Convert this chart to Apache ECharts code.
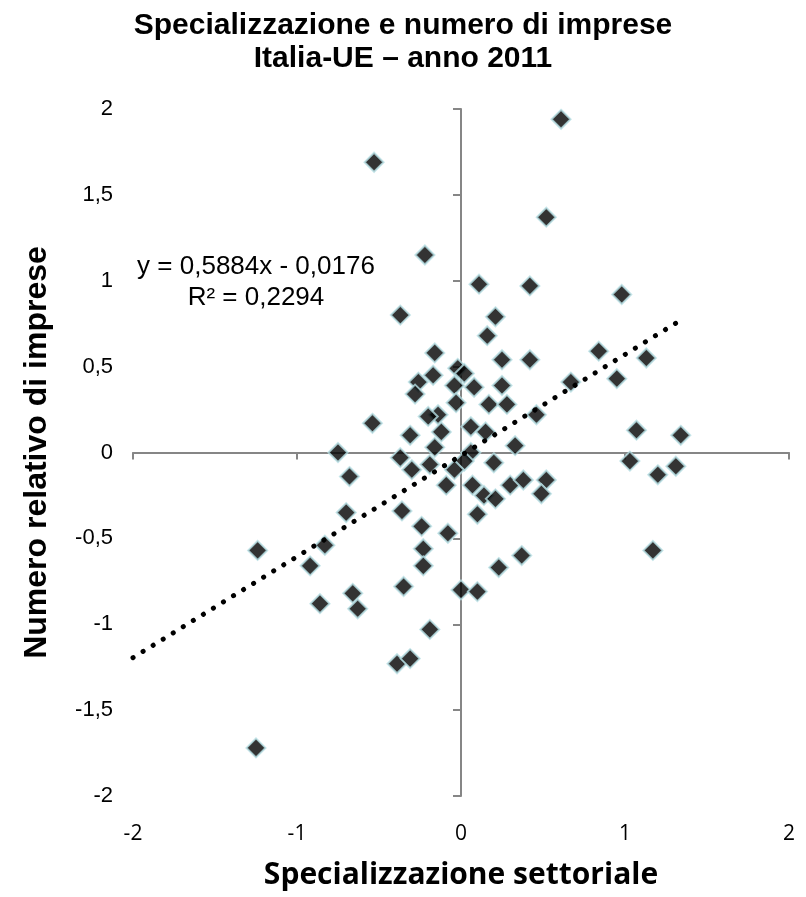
<!DOCTYPE html>
<html>
<head>
<meta charset="utf-8">
<title>Specializzazione e numero di imprese</title>
<script src="https://cdn.jsdelivr.net/npm/echarts@6/dist/echarts.min.js"></script>
<style>
  html, body { margin: 0; padding: 0; background: #ffffff; }
  #chart { width: 806px; height: 897px; }
</style>
</head>
<body>
<div id="chart"></div>
<script>
// Specializzazione settoriale (x) vs numero relativo di imprese (y), Italia-UE 2011
var specializzazione = [
  -0.53, 0.61, 0.52, -0.22, 0.11, 0.42, 0.98, -0.37, 0.21, 0.16,
  0.84, -0.16, 0.25, 0.42, 1.13, -0.02, 0.02, -0.17, -0.26, -0.04,
  0.08, 0.25, 0.67, 0.95, -0.28, -0.03, 0.17, 0.28, -0.14, -0.20,
  0.46, -0.54, 0.06, 0.15, -0.12, -0.31, 1.07, 1.34, -0.16, 0.33,
  -0.75, 0.06, -0.37, 0.02, -0.19, 0.20, 1.03, 1.31, 1.20, -0.30,
  -0.04, -0.68, -0.09, 0.07, 0.30, 0.38, 0.52, 0.14, 0.21, 0.49,
  -0.70, -0.36, 0.10, -0.24, -0.08, -0.83, -0.23, -1.24, 1.17, 0.37,
  -0.92, -0.23, 0.23, -0.35, 0.00, 0.10, -0.66, -0.86, -0.63, -0.19,
  -0.39, -0.31, -1.25
];
var numeroImprese = [
  1.69, 1.94, 1.37, 1.15, 0.98, 0.97, 0.92, 0.80, 0.79, 0.68,
  0.59, 0.58, 0.54, 0.54, 0.55, 0.49, 0.46, 0.45, 0.41, 0.39,
  0.38, 0.39, 0.41, 0.43, 0.34, 0.29, 0.28, 0.28, 0.22, 0.21,
  0.22, 0.17, 0.15, 0.12, 0.12, 0.10, 0.13, 0.10, 0.03, 0.04,
  0.00, 0.00, -0.03, -0.05, -0.07, -0.06, -0.05, -0.08, -0.13, -0.10,
  -0.10, -0.14, -0.19, -0.19, -0.19, -0.16, -0.16, -0.25, -0.27, -0.24,
  -0.35, -0.34, -0.36, -0.43, -0.47, -0.54, -0.56, -0.57, -0.57, -0.60,
  -0.66, -0.66, -0.67, -0.78, -0.80, -0.81, -0.82, -0.88, -0.91, -1.03,
  -1.23, -1.20, -1.72
];

// Linear trend line coefficients (least squares)
var trendSlope = 0.5884;
var trendIntercept = -0.0176;
var trendR2 = 0.2294;

var xTicks = [-2, -1, 0, 1, 2];
var yTicks = [-2, -1.5, -1, -0.5, 0, 0.5, 1, 1.5, 2];

function fmt(v) { return String(v).replace('.', ','); }

var points = specializzazione.map(function (x, i) { return [x, numeroImprese[i]]; });
var trendStart = -2;
var trendEnd = Math.max.apply(null, specializzazione);
var trendLine = [
  [trendStart, trendSlope * trendStart + trendIntercept],
  [trendEnd, trendSlope * trendEnd + trendIntercept]
];

var axisGray = '#868686';
var labelFont = '26px "Liberation Sans", Arial, sans-serif';
var chart = echarts.init(document.getElementById('chart'), null, { renderer: 'canvas' });

chart.setOption({
  animation: false,
  backgroundColor: '#ffffff',
  title: {
    text: 'Specializzazione e numero di imprese\nItalia-UE \u2013 anno 2011',
    left: 'center',
    top: 4,
    textStyle: {
      fontFamily: 'Liberation Sans, Arial, sans-serif',
      fontWeight: 'bold',
      fontSize: 30,
      lineHeight: 33,
      color: '#000000'
    }
  },
  grid: { left: 133, right: 17, top: 109, bottom: 101, containLabel: false },
  xAxis: [
    {
      type: 'value', min: -2, max: 2, interval: 1,
      axisLine: { show: true, onZero: true, onZeroAxisIndex: 0, lineStyle: { color: axisGray, width: 2 } },
      axisTick: { show: true, length: 7, lineStyle: { color: axisGray, width: 2 } },
      axisLabel: { show: false },
      splitLine: { show: false }
    },
    {
      type: 'value', min: -2, max: 2, interval: 1, position: 'bottom',
      axisLine: { show: false, onZero: false },
      axisTick: { show: false },
      splitLine: { show: false },
      axisLabel: {
        show: true, margin: 28,
        fontFamily: 'Open Sans, sans-serif', fontSize: 21, color: '#000000',
        formatter: function (v) { return xTicks.indexOf(v) >= 0 ? fmt(v) : ''; }
      },
      name: 'Specializzazione settoriale',
      nameLocation: 'middle',
      nameGap: 64,
      nameTextStyle: { fontFamily: 'Open Sans, sans-serif', fontWeight: 'bold', fontSize: 30, color: '#000000' }
    }
  ],
  yAxis: [
    {
      type: 'value', min: -2, max: 2, interval: 0.5,
      axisLine: { show: true, onZero: true, onZeroAxisIndex: 0, lineStyle: { color: axisGray, width: 2 } },
      axisTick: { show: true, length: 8, lineStyle: { color: axisGray, width: 2 } },
      axisLabel: { show: false },
      splitLine: { show: false }
    },
    {
      type: 'value', min: -2, max: 2, interval: 0.5, position: 'left',
      axisLine: { show: false, onZero: false },
      axisTick: { show: false },
      splitLine: { show: false },
      axisLabel: {
        show: true, margin: 20,
        fontFamily: 'Liberation Sans, Arial, sans-serif', fontSize: 22, color: '#000000',
        formatter: function (v) { return yTicks.indexOf(v) >= 0 ? fmt(v) : ''; }
      },
      name: 'Numero relativo di imprese',
      nameLocation: 'middle',
      nameGap: 80,
      nameRotate: 90,
      nameTextStyle: { fontFamily: 'Liberation Sans, Arial, sans-serif', fontWeight: 'bold', fontSize: 32, color: '#000000' }
    }
  ],
  series: [
    {
      name: 'Lineare',
      type: 'line',
      xAxisIndex: 0, yAxisIndex: 0,
      data: trendLine,
      symbol: 'none',
      silent: true,
      z: 3,
      lineStyle: { color: '#000000', width: 5, type: [0.1, 11.7], cap: 'round' }
    },
    {
      name: 'Imprese',
      type: 'scatter',
      xAxisIndex: 0, yAxisIndex: 0,
      data: points,
      symbol: 'diamond',
      symbolSize: 19,
      z: 2,
      itemStyle: { color: '#000000', borderColor: '#b7dee4', borderWidth: 2 }
    }
  ],
  graphic: [
    {
      type: 'text',
      x: 256, y: 267,
      style: {
        text: 'y = ' + fmt(trendSlope) + 'x - ' + fmt(Math.abs(trendIntercept)),
        font: labelFont, fill: '#000000',
        align: 'center', textAlign: 'center',
        verticalAlign: 'middle', textVerticalAlign: 'middle'
      }
    },
    {
      type: 'text',
      x: 256, y: 298,
      style: {
        text: 'R\u00b2 = ' + fmt(trendR2),
        font: labelFont, fill: '#000000',
        align: 'center', textAlign: 'center',
        verticalAlign: 'middle', textVerticalAlign: 'middle'
      }
    }
  ]
});
</script>
</body>
</html>
